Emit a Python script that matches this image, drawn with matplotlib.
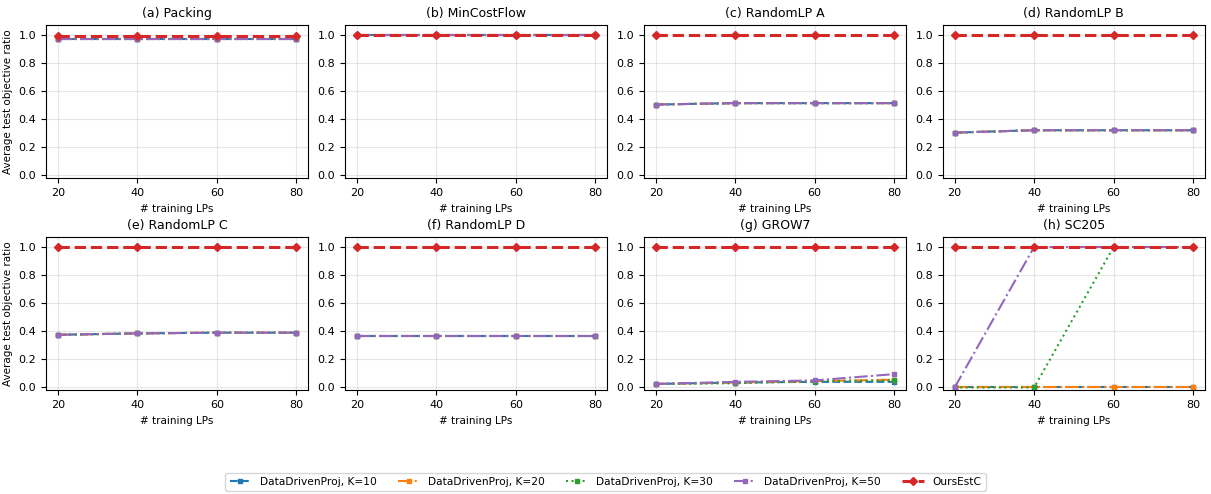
import matplotlib
matplotlib.use("Agg")
import matplotlib.pyplot as plt

n_train = [20, 40, 60, 80]

titles = ['(a) Packing', '(b) MinCostFlow', '(c) RandomLP A', '(d) RandomLP B',
          '(e) RandomLP C', '(f) RandomLP D', '(g) GROW7', '(h) SC205']

# values per problem: K=10, K=20, K=30, K=50, OursEstC
k10 = [
    [0.975, 0.975, 0.975, 0.975],
    [1.0, 1.0, 1.0, 1.0],
    [0.505, 0.515, 0.515, 0.515],
    [0.305, 0.322, 0.322, 0.322],
    [0.375, 0.385, 0.39, 0.39],
    [0.365, 0.365, 0.365, 0.365],
    [0.025, 0.035, 0.04, 0.04],
    [0.0, 0.0, 0.0, 0.0],
]
k20 = [
    [0.975, 0.975, 0.975, 0.975],
    [1.0, 1.0, 1.0, 1.0],
    [0.505, 0.515, 0.515, 0.515],
    [0.305, 0.322, 0.322, 0.322],
    [0.375, 0.385, 0.39, 0.39],
    [0.365, 0.365, 0.365, 0.365],
    [0.025, 0.035, 0.045, 0.055],
    [0.0, 0.0, 0.0, 0.0],
]
k30 = [
    [0.975, 0.975, 0.975, 0.975],
    [1.0, 1.0, 1.0, 1.0],
    [0.505, 0.515, 0.515, 0.515],
    [0.305, 0.322, 0.322, 0.322],
    [0.375, 0.385, 0.39, 0.39],
    [0.365, 0.365, 0.365, 0.365],
    [0.025, 0.03, 0.045, 0.05],
    [0.0, 0.0, 1.0, 1.0],
]
k50 = [
    [0.975, 0.975, 0.975, 0.975],
    [1.0, 1.0, 1.0, 1.0],
    [0.505, 0.515, 0.515, 0.515],
    [0.305, 0.322, 0.322, 0.322],
    [0.375, 0.385, 0.39, 0.39],
    [0.365, 0.365, 0.365, 0.365],
    [0.025, 0.04, 0.05, 0.095],
    [0.0, 1.0, 1.0, 1.0],
]
ours = [
    [0.99, 0.99, 0.99, 0.99],
    [1.0, 1.0, 1.0, 1.0],
    [1.0, 1.0, 1.0, 1.0],
    [1.0, 1.0, 1.0, 1.0],
    [1.0, 1.0, 1.0, 1.0],
    [1.0, 1.0, 1.0, 1.0],
    [1.0, 1.0, 1.0, 1.0],
    [1.0, 1.0, 1.0, 1.0],
]

fig, axes = plt.subplots(2, 4, figsize=(12.11, 4.94), dpi=100)
plt.subplots_adjust(left=0.038, right=0.995, top=0.949, bottom=0.21,
                    wspace=0.14, hspace=0.385)

for i, ax in enumerate(axes.flat):
    ax.plot(n_train, k10[i], color='tab:blue', linestyle='--', marker='s',
            markersize=3.5, linewidth=1.5, label='DataDrivenProj, K=10')
    ax.plot(n_train, k20[i], color='tab:orange', linestyle='-.', marker='s',
            markersize=3.5, linewidth=1.5, label='DataDrivenProj, K=20')
    ax.plot(n_train, k30[i], color='tab:green', linestyle=':', marker='s',
            markersize=3.5, linewidth=1.5, label='DataDrivenProj, K=30')
    ax.plot(n_train, k50[i], color='tab:purple', linestyle='-.', marker='s',
            markersize=3.5, linewidth=1.5, label='DataDrivenProj, K=50')
    ax.plot(n_train, ours[i], color='tab:red', linestyle='--', marker='D',
            markersize=4, linewidth=2.2, label='OursEstC')
    ax.set_title(titles[i], fontsize=9)
    ax.set_xlabel('# training LPs', fontsize=7.5)
    ax.set_ylim(-0.02, 1.07)
    ax.set_xticks(n_train)
    ax.set_yticks([0.0, 0.2, 0.4, 0.6, 0.8, 1.0])
    ax.tick_params(labelsize=8)
    ax.grid(True, alpha=0.3)
    if i % 4 == 0:
        ax.set_ylabel('Average test objective ratio', fontsize=7.5)

handles, labels = axes[0, 0].get_legend_handles_labels()
fig.legend(handles, labels, loc='lower center', ncol=5, fontsize=7.7,
           bbox_to_anchor=(0.5, -0.005), columnspacing=2.0)

plt.savefig('out.png')
